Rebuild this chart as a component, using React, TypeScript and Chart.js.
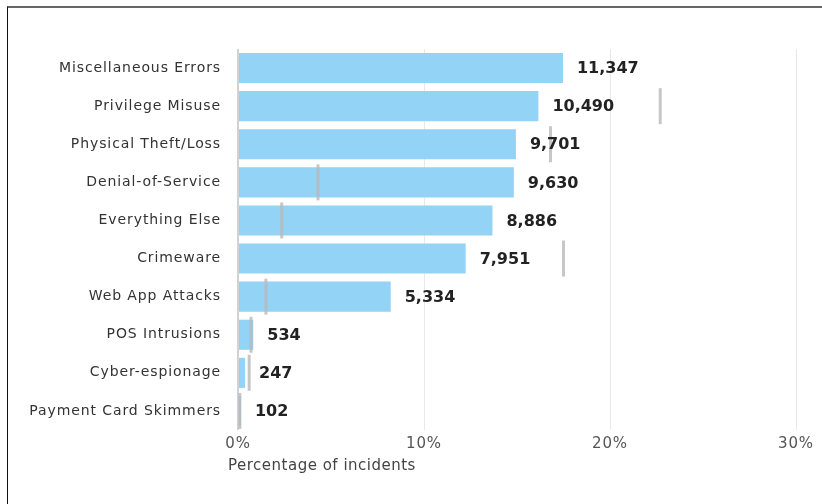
import React, { useEffect, useRef } from "react";
import { Chart, registerables } from "chart.js";

Chart.register(...registerables);

const categories = [
  "Miscellaneous Errors",
  "Privilege Misuse",
  "Physical Theft/Loss",
  "Denial-of-Service",
  "Everything Else",
  "Crimeware",
  "Web App Attacks",
  "POS Intrusions",
  "Cyber-espionage",
  "Payment Card Skimmers",
];
const incidentCounts = [11347, 10490, 9701, 9630, 8886, 7951, 5334, 534, 247, 102];
const percentOfIncidents = [17.47, 16.15, 14.94, 14.83, 13.68, 12.24, 8.21, 0.82, 0.38, 0.16];
const previousPercent = [null, 22.7, 16.8, 4.3, 2.35, 17.5, 1.5, 0.7, 0.6, 0.1];
const xTickValues = [0, 10, 20, 30];
const axisTitle = "Percentage of incidents";

const FONT = "'DejaVu Sans', sans-serif";

const spacingPlugin = {
  id: "spacing",
  beforeLayout(chart: any) {
    chart.ctx.letterSpacing = "0.9px";
  },
  beforeDraw(chart: any) {
    chart.ctx.letterSpacing = "0.9px";
  },
};

const labelPlugin = {
  id: "valueLabels",
  afterDraw(chart: any) {
    const ctx = chart.ctx;
    const area = chart.chartArea;
    ctx.save();
    ctx.letterSpacing = "0px";
    ctx.font = `bold 16px ${FONT}`;
    ctx.fillStyle = "#222";
    ctx.textAlign = "left";
    ctx.textBaseline = "middle";
    const meta = chart.getDatasetMeta(0);
    meta.data.forEach((el: any, i: number) => {
      ctx.fillText(incidentCounts[i].toLocaleString("en-US"), el.x + 14, el.y + 1);
    });
    ctx.letterSpacing = "0.5px";
    ctx.font = `15px ${FONT}`;
    ctx.fillStyle = "#444";
    ctx.fillText(axisTitle, area.left - 10, area.bottom + 36);
    ctx.restore();
  },
};

export default function App() {
  const ref = useRef<HTMLCanvasElement>(null);

  useEffect(() => {
    if (!ref.current) return;
    const chart = new Chart(ref.current, {
      type: "bar",
      data: {
        labels: categories,
        datasets: [
          {
            type: "bar",
            data: percentOfIncidents,
            backgroundColor: "#93d3f5",
            borderWidth: 0,
            barPercentage: 0.79,
            categoryPercentage: 1,
            order: 2,
          } as any,
          {
            type: "line",
            data: previousPercent,
            showLine: false,
            pointStyle: "line",
            rotation: 90,
            pointRadius: 18,
            pointBorderWidth: 3,
            pointBorderColor: "rgba(185,185,185,0.8)",
            pointBackgroundColor: "rgba(185,185,185,0.8)",
            order: 1,
          } as any,
        ],
      },
      options: {
        indexAxis: "y",
        responsive: false,
        animation: false,
        events: [],
        layout: { padding: { top: 49, right: 26, left: 0, bottom: 0 } },
        plugins: { legend: { display: false }, tooltip: { enabled: false } },
        scales: {
          x: {
            min: 0,
            max: 30,
            afterBuildTicks: (s: any) => {
              s.ticks = xTickValues.map((v) => ({ value: v }));
            },
            afterFit: (s: any) => {
              s.height = 74;
            },
            grid: {
              drawTicks: false,
              color: (c: any) => (c.tick && c.tick.value === 0 ? "#d2d2d2" : "#e8e8e8"),
              lineWidth: (c: any) => (c.tick && c.tick.value === 0 ? 2 : 1),
            },
            border: { display: false },
            ticks: {
              padding: 5,
              color: "#555",
              font: { family: FONT, size: 15 },
              callback: (v: any) => v + "%",
            },
          },
          y: {
            afterFit: (s: any) => {
              s.width = 238;
            },
            grid: { display: false, drawTicks: false },
            border: { display: false },
            ticks: {
              padding: 17,
              color: "#333",
              font: { family: FONT, size: 14 },
            },
          },
        },
      } as any,
      plugins: [spacingPlugin, labelPlugin],
    });
    return () => chart.destroy();
  }, []);

  return (
    <div style={{ position: "fixed", left: 0, top: 0, width: 822, height: 504, background: "#fff" }}>
      <div
        style={{
          position: "absolute",
          left: 7,
          top: 6,
          right: 0,
          bottom: 0,
          borderLeft: "1px solid #111",
          borderTop: "2px solid #666",
        }}
      />
      <canvas
        ref={ref}
        width={822}
        height={504}
        style={{ position: "absolute", left: 0, top: 0, width: 822, height: 504 }}
      />
    </div>
  );
}
